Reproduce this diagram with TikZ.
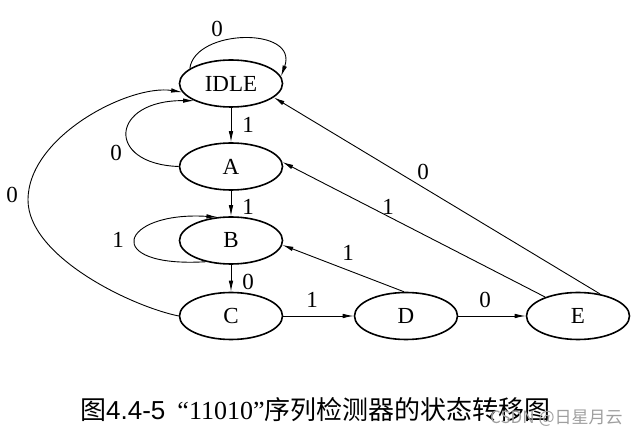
\documentclass[tikz,border=0pt]{standalone}
\usepackage{fontspec}
\setmainfont{Liberation Serif}
\newfontfamily\cjk{Noto Sans CJK SC}
\newfontfamily\lsans{Liberation Sans}
\usetikzlibrary{shapes.geometric,arrows.meta}
\begin{document}
\begin{tikzpicture}[x=1pt,y=1pt,
  st/.style={ellipse,draw,line width=1.6pt,minimum width=103pt,minimum height=47pt,inner sep=0pt,font=\fontsize{23}{23}\selectfont},
  tr/.style={line width=0.9pt,-{Latex[length=11pt,width=4.5pt]}},
  lb/.style={font=\fontsize{23}{23}\selectfont,inner sep=0pt}]
\useasboundingbox (0,0) rectangle (642,436);
\node[st] (IDLE) at (231,352.5) {IDLE};
\node[st] (A) at (231,269.5) {A};
\node[st] (B) at (231,195.5) {B};
\node[st] (C) at (231,120) {C};
\node[st] (D) at (406,120) {D};
\node[st] (E) at (578,120) {E};
% IDLE self loop
\draw[tr] (IDLE.160) .. controls +(5,40) and +(18,50) .. (IDLE.8);
\node[lb] (l0) at (217,407) {0};
% vertical chain
\draw[tr] (IDLE) -- (A);
\node[lb] (l1) at (248,311) {1};
\draw[tr] (A) -- (B);
\node[lb] (l2) at (248,229) {1};
\draw[tr] (B) -- (C);
\node[lb] (l3) at (248,154) {0};
% A -> IDLE
\draw[tr] (A.180) .. controls (105,272) and (110,336) .. (IDLE.205);
\node[lb] (l4) at (116,283) {0};
% B self loop
\draw[tr] (B.220) .. controls (100,168) and (120,225) .. (B.120);
\node[lb] (l5) at (118,196) {1};
% C -> IDLE
\draw[tr] (C.180) .. controls (130,130) and (28,180) .. (28,236) .. controls (28,300) and (130,352) .. (IDLE.190);
\node[lb] (l6) at (12,241) {0};
% bottom row
\draw[tr] (C) -- (D);
\node[lb] (l7) at (312,136) {1};
\draw[tr] (D) -- (E);
\node[lb] (l8) at (485,136) {0};
% back edges
\draw[tr] (D.95) -- (B.-5);
\node[lb] (l9) at (348,183) {1};
\draw[tr] (E.150) -- (A.5);
\node[lb] (l10) at (388,229) {1};
\draw[tr] (E.45) -- (IDLE.-18);
\node[lb] (l11) at (423,264) {0};
% caption
\node[anchor=west,inner sep=0pt,font=\fontsize{26}{26}\selectfont] (cap) at (80,26)
  {{\cjk 图}{\lsans 4.4-5}\hspace{12pt}“11010”{\cjk 序列检测器的状态转移图}};
\node[anchor=west,inner sep=0pt,text=gray!75,font=\fontsize{17}{17}\selectfont\cjk] (wm) at (490,18) {CSDN @日星月云};
\end{tikzpicture}
\end{document}
